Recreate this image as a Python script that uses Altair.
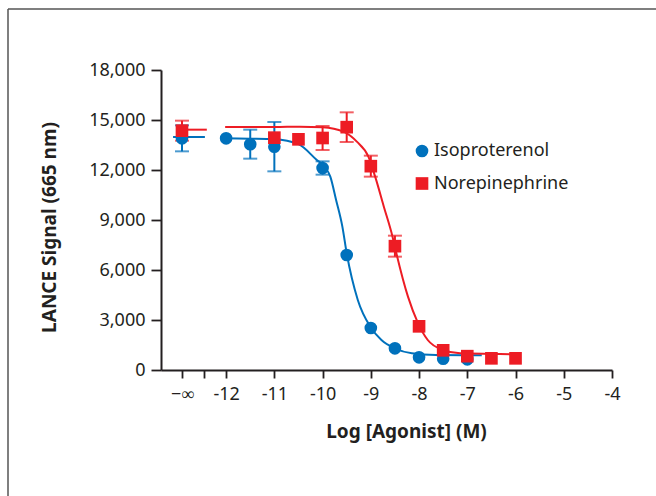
import altair as alt
import pandas as pd

# ---------------- data ----------------
NEG_INF_POS = -12.915      # axis position used for the "−∞" (no agonist) point
AXIS_BREAK_POS = -12.46    # unlabeled tick marking the axis break

series = ["Isoproterenol", "Norepinephrine"]
colors = ["#0071BC", "#ED1C24"]
shapes = ["circle", "square"]

iso_x = [NEG_INF_POS, -12, -11.5, -11, -10, -9.5, -9, -8.5, -8, -7.5, -7]
iso_y = [13900, 13900, 13550, 13400, 12120, 6900, 2520, 1300, 760, 680, 640]
iso_err = [780, 0, 870, 1480, 400, 0, 0, 0, 0, 0, 0]

nor_x = [NEG_INF_POS, -11, -10.5, -10, -9.5, -9, -8.5, -8, -7.5, -7, -6.5, -6]
nor_y = [14360, 13940, 13840, 13920, 14570, 12230, 7430, 2620, 1180, 830, 700, 700]
nor_err = [600, 0, 0, 720, 890, 630, 630, 0, 0, 0, 0, 0]

# fitted curves
iso_fit_x = [-12.09, -11.5, -11.0, -10.5, -10.12, -9.96, -9.84, -9.72, -9.59, -9.50,
             -9.27, -9.0, -8.78, -8.5, -8.15, -7.65, -6.7]
iso_fit_y = [13900, 13880, 13850, 13550, 12600, 12200, 11600, 10200, 8600, 7000,
             4200, 2550, 1800, 1300, 1000, 900, 880]

nor_fit_x = [-12.02, -11.0, -10.47, -10.0, -9.57, -9.29, -9.05, -8.91, -8.73, -8.55,
             -8.47, -8.23, -8.02, -7.82, -7.50, -7.15, -6.32, -5.91]
nor_fit_y = [14580, 14580, 14600, 14560, 14300, 13700, 12800, 11600, 9800, 8000,
             7000, 4400, 2800, 1800, 1200, 1000, 960, 930]

# short plateau segments drawn at the "−∞" position
inf_seg_x1 = [-13.10, -13.03]
inf_seg_x2 = [-12.44, -12.40]
inf_seg_y = [13980, 14420]

x_ticks = [NEG_INF_POS, AXIS_BREAK_POS, -12, -11, -10, -9, -8, -7, -6, -5, -4]
y_ticks = [0, 3000, 6000, 9000, 12000, 15000, 18000]

# ---------------- tables ----------------
pts = pd.concat([
    pd.DataFrame({"series": series[0], "x": iso_x, "y": iso_y, "err": iso_err}),
    pd.DataFrame({"series": series[1], "x": nor_x, "y": nor_y, "err": nor_err}),
], ignore_index=True)
fits = {
    series[0]: pd.DataFrame({"x": iso_fit_x, "y": iso_fit_y}),
    series[1]: pd.DataFrame({"x": nor_fit_x, "y": nor_fit_y}),
}
segs = pd.DataFrame({"series": series, "x1": inf_seg_x1, "x2": inf_seg_x2, "y": inf_seg_y})

FONT = "Noto Sans"
TXT = "#231F20"

xscale = alt.Scale(domain=[-13.35, -4], nice=False, zero=False)
yscale = alt.Scale(domain=[0, 18000], nice=False)

x_axis = alt.Axis(
    values=x_ticks,
    labelExpr="datum.value < -12.9 ? '\u2212\u221e\u00a0\u00a0\u00a0' : (datum.value < -12.2 ? '' : toString(datum.value))",
    title="Log [Agonist] (M)", tickSize=8, labelPadding=7, labelOverlap=False, labelFlush=False,
    titleX=245, titleY=67, titleBaseline="alphabetic", titleAlign="center", grid=False,
)
y_axis = alt.Axis(
    values=y_ticks, labelExpr="format(datum.value, ',')", tickSize=10, labelPadding=6,
    title="LANCE Signal (665 nm)", titleAngle=270, titleX=-106, titleY=157,
    titleAlign="center", titleBaseline="alphabetic", grid=False,
)

X = alt.X("x:Q", scale=xscale, axis=x_axis)
Y = alt.Y("y:Q", scale=yscale, axis=y_axis)

layers = []

# outer frame (decoration)
one = alt.Data(values=[{"a": 1}])
layers.append(alt.Chart(one).mark_rule(color="#555555", strokeWidth=1.5).encode(
    x=alt.value(-153), y=alt.value(-61), y2=alt.value(430)))
layers.append(alt.Chart(one).mark_rule(color="#555555", strokeWidth=1.5).encode(
    x=alt.value(-153), x2=alt.value(500), y=alt.value(-61)))

for s, c in zip(series, colors):
    layers.append(alt.Chart(fits[s]).mark_line(color=c, strokeWidth=2, interpolate="monotone").encode(
        x=X, y=Y))
    layers.append(alt.Chart(segs).transform_filter(alt.datum.series == s).mark_rule(
        color=c, strokeWidth=2).encode(x=alt.X("x1:Q", scale=xscale, axis=x_axis), x2="x2:Q",
                                       y=alt.Y("y:Q", scale=yscale, axis=y_axis)))
    eb = alt.Chart(pts).transform_filter(alt.datum.series == s).transform_filter(
        alt.datum.err > 0).transform_calculate(lo="datum.y - datum.err", hi="datum.y + datum.err")
    layers.append(eb.mark_rule(color=c, strokeWidth=2).encode(
        x=X, y=alt.Y("lo:Q", scale=yscale, axis=y_axis), y2="hi:Q"))
    layers.append(eb.mark_tick(color=c, thickness=2, size=14, orient="horizontal").encode(
        x=X, y=alt.Y("lo:Q", scale=yscale, axis=y_axis)))
    layers.append(eb.mark_tick(color=c, thickness=2, size=14, orient="horizontal").encode(
        x=X, y=alt.Y("hi:Q", scale=yscale, axis=y_axis)))

leg = alt.Legend(title=None, orient="none", legendX=252, legendY=72)
layers.append(alt.Chart(pts).mark_point(filled=True, opacity=1, size=160).encode(
    x=X, y=Y,
    color=alt.Color("series:N", scale=alt.Scale(domain=series, range=colors), legend=leg),
    shape=alt.Shape("series:N", scale=alt.Scale(domain=series, range=shapes), legend=leg),
))

chart = alt.layer(*layers).properties(
    width=451, height=300,
    autosize=alt.AutoSizeParams(type="none"),
    padding={"left": 161, "top": 70, "right": 44, "bottom": 126},
).configure_view(stroke=None).configure_axis(
    labelFont=FONT, titleFont=FONT, labelFontSize=18, titleFontSize=19, titleFontWeight="bold",
    labelColor=TXT, titleColor=TXT, domainColor=TXT, tickColor=TXT, domainWidth=2, tickWidth=1.8,
).configure_legend(
    labelFont=FONT, labelFontSize=18, labelColor=TXT, symbolSize=160, symbolStrokeWidth=0,
    rowPadding=14.5, labelOffset=3, padding=0,
)

chart.save("out.html", embed_options={"renderer": "svg", "actions": False})
